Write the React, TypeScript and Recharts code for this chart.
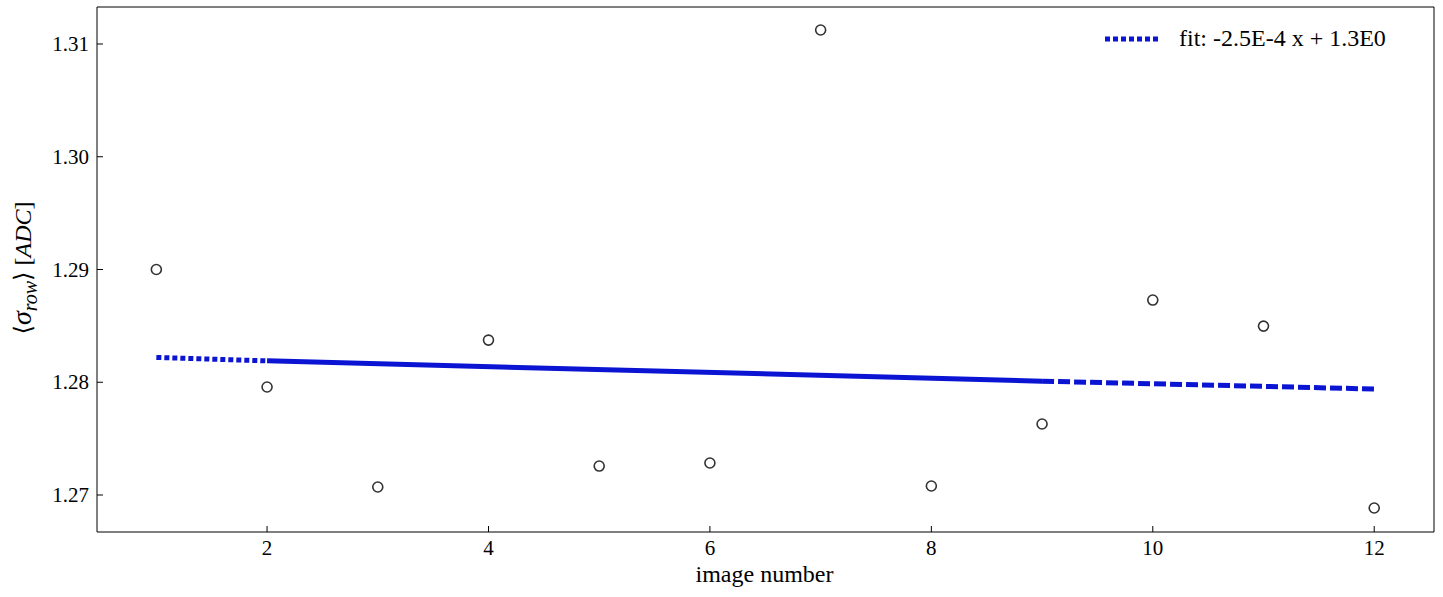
import React from "react";
import {
  ComposedChart,
  Scatter,
  Line,
  XAxis,
  YAxis,
} from "recharts";

// measured points
const imageNumbers = [1, 2, 3, 4, 5, 6, 7, 8, 9, 10, 11, 12];
const sigmaRow = [
  1.29, 1.27958, 1.27071, 1.28374, 1.27257, 1.27284, 1.31124, 1.2708,
  1.2763, 1.28729, 1.28498, 1.26885,
];

// fit line, drawn in three pieces like the original
const fitDotted = [
  { x: 1, fit: 1.2822 },
  { x: 2, fit: 1.2819 },
];
const fitSolid = [
  { x: 2, fit: 1.2819 },
  { x: 9, fit: 1.2801 },
];
const fitDashed = [
  { x: 9, fit: 1.2801 },
  { x: 12, fit: 1.2794 },
];

const xTicks = [2, 4, 6, 8, 10, 12];
const yTicks = [1.27, 1.28, 1.29, 1.3, 1.31];

const points = imageNumbers.map((x, i) => ({ x, y: sigmaRow[i] }));

const FONT = "'Liberation Serif', 'DejaVu Serif', serif";
const BLUE = "#0a14d2";
const X_DOMAIN = [0.464, 12.54];
const Y_DOMAIN = [1.26672, 1.31328];

const XTick = (props: any) => {
  const { x, y, payload } = props;
  return (
    <g>
      <line x1={x} x2={x} y1={y} y2={y - 6} stroke="#000" strokeWidth={1} />
      <text x={x} y={y + 23} textAnchor="middle" fontFamily={FONT} fontSize={21} fill="#000">
        {payload.value}
      </text>
    </g>
  );
};

const YTick = (props: any) => {
  const { x, y, payload } = props;
  return (
    <g>
      <line x1={x} x2={x + 6} y1={y} y2={y} stroke="#000" strokeWidth={1} />
      <text x={x - 8} y={y + 7} textAnchor="end" fontFamily={FONT} fontSize={21} fill="#000">
        {payload.value.toFixed(2)}
      </text>
    </g>
  );
};

export default function App() {
  return (
    <div style={{ position: "absolute", left: 0, top: 0, width: 1443, height: 597, background: "#fff" }}>
      <ComposedChart
        width={1443}
        height={597}
        margin={{ top: 6, right: 8, bottom: 64, left: 96 }}
      >
        <XAxis
          xAxisId="b"
          dataKey="x"
          type="number"
          domain={X_DOMAIN}
          ticks={xTicks}
          height={1}
          tickSize={0}
          tickMargin={0}
          tick={<XTick />}
          axisLine={{ stroke: "#000" }}
          tickLine={false}
          allowDataOverflow
        />
        <XAxis
          xAxisId="t"
          orientation="top"
          type="number"
          domain={X_DOMAIN}
          height={1}
          tick={false}
          axisLine={{ stroke: "#000" }}
          tickLine={false}
        />
        <YAxis
          yAxisId="l"
          type="number"
          domain={Y_DOMAIN}
          ticks={yTicks}
          width={1}
          tickSize={0}
          tickMargin={0}
          tick={<YTick />}
          axisLine={{ stroke: "#000" }}
          tickLine={false}
          allowDataOverflow
        />
        <YAxis
          yAxisId="r"
          orientation="right"
          type="number"
          domain={Y_DOMAIN}
          width={1}
          tick={false}
          axisLine={{ stroke: "#000" }}
          tickLine={false}
        />
        <Line xAxisId="b" yAxisId="l" data={fitDotted} dataKey="fit" stroke={BLUE} strokeWidth={5} strokeDasharray="5 3" dot={false} isAnimationActive={false} />
        <Line xAxisId="b" yAxisId="l" data={fitSolid} dataKey="fit" stroke={BLUE} strokeWidth={5} dot={false} isAnimationActive={false} />
        <Line xAxisId="b" yAxisId="l" data={fitDashed} dataKey="fit" stroke={BLUE} strokeWidth={5} strokeDasharray="12 4" dot={false} isAnimationActive={false} />
        <Scatter
          xAxisId="b"
          yAxisId="l"
          data={points}
          dataKey="y"
          isAnimationActive={false}
          shape={(p: any) => (
            <circle cx={p.cx} cy={p.cy} r={5} fill="none" stroke="#333" strokeWidth={1.6} />
          )}
        />
      </ComposedChart>

      {/* legend */}
      <div style={{ position: "absolute", left: 1105, top: 25, display: "flex", alignItems: "center", fontFamily: FONT, fontSize: 24 }}>
        <svg width={56} height={10}>
          <line x1={0} x2={56} y1={5} y2={5} stroke={BLUE} strokeWidth={5} strokeDasharray="5 3" />
        </svg>
        <span style={{ marginLeft: 18 }}>fit: -2.5E-4 x + 1.3E0</span>
      </div>

      {/* axis titles */}
      <div style={{ position: "absolute", left: 0, width: 1443, top: 561, textAlign: "center", paddingLeft: 86, boxSizing: "border-box", fontFamily: FONT, fontSize: 24 }}>
        image number
      </div>
      <div
        style={{
          position: "absolute",
          left: 24,
          top: 268,
          transform: "translate(-50%, -50%) rotate(-90deg)",
          whiteSpace: "nowrap",
          fontFamily: FONT,
          fontSize: 24,
        }}
      >
        ⟨<i style={{ fontSize: 28 }}>σ</i><sub><i>row</i></sub>⟩ [<i>ADC</i>]
      </div>
    </div>
  );
}
